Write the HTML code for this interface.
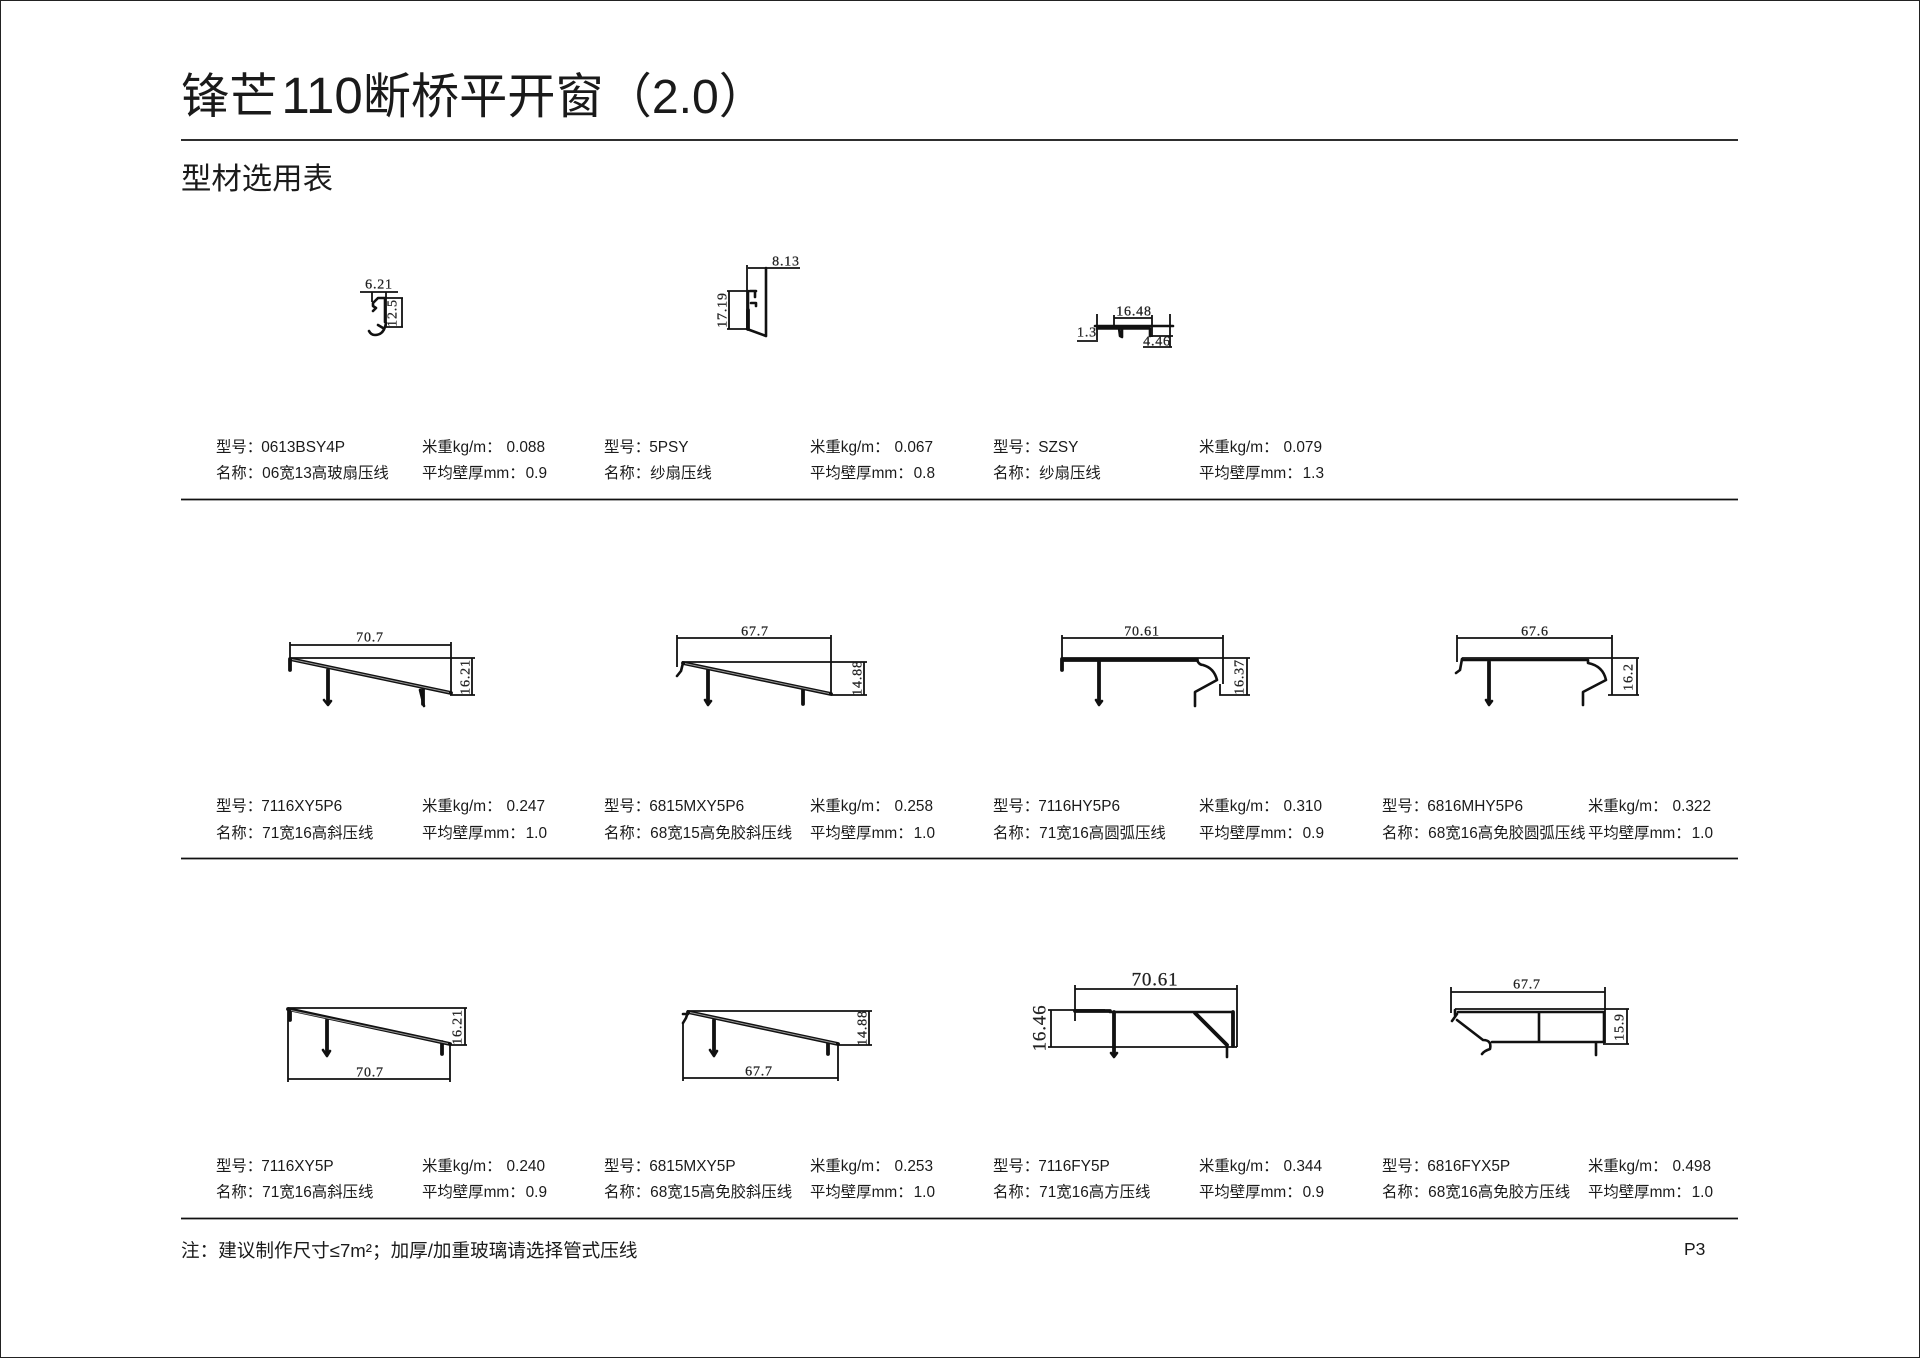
<!DOCTYPE html>
<html lang="zh"><head><meta charset="utf-8"><title>锋芒110断桥平开窗（2.0）</title>
<style>
html,body{margin:0;padding:0;background:#fff}
svg{display:block}
.t{font-family:"Liberation Sans","Noto Sans CJK SC",sans-serif;fill:#1a1a1a}
.c{font-size:15.4px}
.d{font-family:"Liberation Serif","Noto Serif CJK SC",serif;font-size:14px;letter-spacing:.8px;fill:#222;stroke:#222;stroke-width:.25;text-anchor:middle;dominant-baseline:central}
.l{stroke:#111;stroke-width:1.8;fill:none}
.p{stroke:#111;stroke-width:3.8;fill:none;stroke-linejoin:round;stroke-linecap:round}
.q{stroke:#111;stroke-width:2.6;fill:none;stroke-linejoin:round;stroke-linecap:round}
.i{stroke:#999;stroke-width:1;fill:none}
.r{stroke:#111;stroke-width:1.8}
</style></head><body>
<svg width="1920" height="1358" viewBox="0 0 1920 1358" xmlns="http://www.w3.org/2000/svg">
<rect width="1920" height="1358" fill="#fff"/>
<rect x=".5" y=".5" width="1919" height="1357" fill="none" stroke="#222"/>
<text class="t" x="181" y="113" font-size="48.200">锋芒<tspan dx="4" font-size="51">110</tspan>断桥平开窗（2.0）</text>
<text class="t" x="181" y="189" font-size="30.4">型材选用表</text>
<path class="r" d="M181 140H1738M181 499.500H1738M181 858.500H1738M181 1218.500H1738"/>

<g class="t c">
<text x="216" y="452">型号：<tspan dx="-1">0613BSY4P</tspan></text><text x="422" y="452">米重kg/m：<tspan dx="5">0.088</tspan></text>
<text x="216" y="478">名称：06宽13高玻扇压线</text><text x="422" y="478">平均壁厚mm：<tspan dx="1">0.9</tspan></text>
<text x="604" y="452">型号：<tspan dx="-1">5PSY</tspan></text><text x="810" y="452">米重kg/m：<tspan dx="5">0.067</tspan></text>
<text x="604" y="478">名称：纱扇压线</text><text x="810" y="478">平均壁厚mm：<tspan dx="1">0.8</tspan></text>
<text x="993" y="452">型号：<tspan dx="-1">SZSY</tspan></text><text x="1199" y="452">米重kg/m：<tspan dx="5">0.079</tspan></text>
<text x="993" y="478">名称：纱扇压线</text><text x="1199" y="478">平均壁厚mm：<tspan dx="1">1.3</tspan></text>

<text x="216" y="811">型号：<tspan dx="-1">7116XY5P6</tspan></text><text x="422" y="811">米重kg/m：<tspan dx="5">0.247</tspan></text>
<text x="216" y="838">名称：71宽16高斜压线</text><text x="422" y="838">平均壁厚mm：<tspan dx="1">1.0</tspan></text>
<text x="604" y="811">型号：<tspan dx="-1">6815MXY5P6</tspan></text><text x="810" y="811">米重kg/m：<tspan dx="5">0.258</tspan></text>
<text x="604" y="838">名称：68宽15高免胶斜压线</text><text x="810" y="838">平均壁厚mm：<tspan dx="1">1.0</tspan></text>
<text x="993" y="811">型号：<tspan dx="-1">7116HY5P6</tspan></text><text x="1199" y="811">米重kg/m：<tspan dx="5">0.310</tspan></text>
<text x="993" y="838">名称：71宽16高圆弧压线</text><text x="1199" y="838">平均壁厚mm：<tspan dx="1">0.9</tspan></text>
<text x="1382" y="811">型号：<tspan dx="-1">6816MHY5P6</tspan></text><text x="1588" y="811">米重kg/m：<tspan dx="5">0.322</tspan></text>
<text x="1382" y="838">名称：68宽16高免胶圆弧压线</text><text x="1588" y="838">平均壁厚mm：<tspan dx="1">1.0</tspan></text>

<text x="216" y="1171">型号：<tspan dx="-1">7116XY5P</tspan></text><text x="422" y="1171">米重kg/m：<tspan dx="5">0.240</tspan></text>
<text x="216" y="1197">名称：71宽16高斜压线</text><text x="422" y="1197">平均壁厚mm：<tspan dx="1">0.9</tspan></text>
<text x="604" y="1171">型号：<tspan dx="-1">6815MXY5P</tspan></text><text x="810" y="1171">米重kg/m：<tspan dx="5">0.253</tspan></text>
<text x="604" y="1197">名称：68宽15高免胶斜压线</text><text x="810" y="1197">平均壁厚mm：<tspan dx="1">1.0</tspan></text>
<text x="993" y="1171">型号：<tspan dx="-1">7116FY5P</tspan></text><text x="1199" y="1171">米重kg/m：<tspan dx="5">0.344</tspan></text>
<text x="993" y="1197">名称：71宽16高方压线</text><text x="1199" y="1197">平均壁厚mm：<tspan dx="1">0.9</tspan></text>
<text x="1382" y="1171">型号：<tspan dx="-1">6816FYX5P</tspan></text><text x="1588" y="1171">米重kg/m：<tspan dx="5">0.498</tspan></text>
<text x="1382" y="1197">名称：68宽16高免胶方压线</text><text x="1588" y="1197">平均壁厚mm：<tspan dx="1">1.0</tspan></text>
</g>
<text class="t" x="181" y="1257" font-size="18.600">注：建议制作尺寸≤7m²；加厚/加重玻璃请选择管式压线</text>
<text class="t" x="1684" y="1255" font-size="17.5">P3</text>

<!-- A -->
<path class="l" d="M360 292H398M372 292V302M386 292V327M377 298H403M385 327H403M402 298V327"/>
<path class="q" d="M385 298V322M385 298H378L373 303V306L376 308L373 311M386 323Q384 335 375 335Q371 335 369 331M378 325L383 328"/>
<text class="d" x="379" y="285">6.21</text>
<text class="d" transform="translate(393 313) rotate(-90)">12.5</text>

<!-- B -->
<path class="l" d="M748 268H800M747 265V330M727 291H753M727 329H747M729 291V329"/>
<path class="q" d="M766 268V336M747 329L766 336M748 291V329M750 291H756M755 291V297M751 303H756V306"/>
<path class="p" d="M748 310V329"/>
<text class="d" x="786" y="262">8.13</text>
<text class="d" transform="translate(723 310) rotate(-90)">17.19</text>

<!-- C -->
<path class="l" d="M1097 314V340M1077 341H1098M1114 315V327M1152 315V337M1114 318H1152M1150 336H1173M1170 314V347M1143 347H1172"/>
<path class="q" d="M1095 326H1173M1097 328.500H1150V336M1119 328L1120 336L1122 337L1122 329"/>
<text class="d" x="1087" y="333">1.3</text>
<text class="d" x="1134" y="312">16.48</text>
<text class="d" x="1157" y="342">4.46</text>

<!-- D -->
<path class="l" d="M290 645H451M290 642V670M451 642V695M290 658H475M450 695H475M472 658V695"/>
<path class="p" d="M290 659L451 693M290 659V670M328 670V703M423 689V704"/>
<path class="i" d="M292 659.500L449 692.500"/>
<path class="q" d="M324 700L328 705L331 701M420 690L424 706"/>
<text class="d" x="370" y="638">70.7</text>
<text class="d" transform="translate(466 677) rotate(-90)">16.21</text>

<!-- E -->
<path class="l" d="M677 638H831M677 635V667M831 635V695M682 662H867M831 695H867M864 662V695"/>
<path class="p" d="M683 663L831 694M708 670V703M803 689V704"/>
<path class="i" d="M685 663.500L829 693.500"/>
<path class="q" d="M683 663L681 671L677 676M705 700L708 705L711 701"/>
<text class="d" x="755" y="632">67.7</text>
<text class="d" transform="translate(858 678) rotate(-90)">14.88</text>

<!-- F -->
<path class="l" d="M1062 638H1223M1062 635V670M1223 635V684M1220 684V695H1250M1062 658H1250M1247 658V695"/>
<path class="p" d="M1062 659V670M1099 661V703M1062 660H1197"/>
<path class="q" d="M1197 660Q1199 665 1203 665Q1214 668 1217 680L1195 692V706M1096 700L1099 705L1102 701"/>
<text class="d" x="1142" y="632">70.61</text>
<text class="d" transform="translate(1240 677) rotate(-90)">16.37</text>

<!-- G -->
<path class="l" d="M1457 638H1612M1457 635V662M1612 635V695M1462 658H1639M1608 695H1639M1637 658V695"/>
<path class="q" d="M1462 659L1460 670L1456 673M1462 660H1588M1588 660V663Q1603 666 1606 680L1583 692V705M1486 700L1489 705L1492 701"/>
<path class="p" d="M1489 662V703"/>
<text class="d" x="1535" y="632">67.6</text>
<text class="d" transform="translate(1629 677) rotate(-90)">16.2</text>

<!-- H -->
<path class="l" d="M288 1008H467M288 1008V1082M450 1043V1082M288 1079H450M450 1045H467M465 1008V1045"/>
<path class="p" d="M288 1009L450 1044M290 1010V1020M327 1020V1052M442 1042V1054"/>
<path class="i" d="M291 1010.500L448 1043.500"/>
<path class="q" d="M323 1050L327 1056L330 1051"/>
<text class="d" x="370" y="1073">70.7</text>
<text class="d" transform="translate(458 1027) rotate(-90)">16.21</text>

<!-- I -->
<path class="l" d="M687 1011H872M683 1023V1081M838 1045V1081M683 1078H838M838 1045H872M869 1011V1045"/>
<path class="p" d="M688 1012L838 1044M714 1020V1052M828 1042V1054"/>
<path class="i" d="M690 1012.500L836 1043.500"/>
<path class="q" d="M688 1012L686 1018L683 1023M683 1014H688M710 1050L714 1056L717 1051"/>
<text class="d" x="759" y="1072">67.7</text>
<text class="d" transform="translate(863 1028) rotate(-90)">14.88</text>

<!-- J -->
<path class="l" d="M1075 989H1237M1075 985V1021M1237 985V1047M1048 1010H1105M1051 1010V1047M1048 1047H1237"/>
<path class="p" d="M1075 1011H1110M1114 1012V1054M1195 1013L1227 1045M1233 1012V1046"/>
<path class="q" d="M1110 1012H1233M1111 1053L1114 1057L1117 1053M1227 1045V1057"/>
<text class="d" x="1155" y="980" style="font-size:19px">70.61</text>
<text class="d" transform="translate(1040 1028) rotate(-90)" style="font-size:19px">16.46</text>

<!-- K -->
<path class="l" d="M1451 992H1605M1451 987V1013M1605 987V1043M1455 1009H1629M1603 1044H1629M1627 1009V1044"/>
<path class="q" d="M1455 1010V1015M1452 1021L1457 1014M1458 1012H1604V1042H1492M1457 1020L1483 1040Q1492 1040 1490 1049Q1484 1051 1482 1054M1539 1012V1042M1596 1043V1055"/>
<text class="d" x="1527" y="985">67.7</text>
<text class="d" transform="translate(1620 1027) rotate(-90)">15.9</text>
</svg>
</body></html>
